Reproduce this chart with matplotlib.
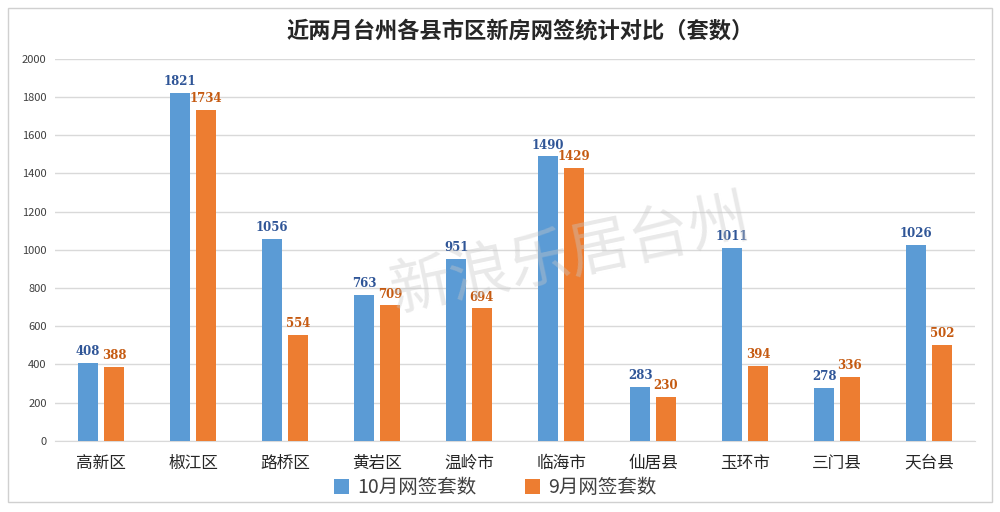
import matplotlib
matplotlib.use('Agg')
import matplotlib.pyplot as plt
import numpy as np
from matplotlib.patches import Rectangle

plt.rcParams['font.family'] = ['Noto Sans CJK SC', 'DejaVu Sans']

districts = ['高新区', '椒江区', '路桥区', '黄岩区', '温岭市', '临海市', '仙居县', '玉环市', '三门县', '天台县']
oct_sales = [408, 1821, 1056, 763, 951, 1490, 283, 1011, 278, 1026]
sep_sales = [388, 1734, 554, 709, 694, 1429, 230, 394, 336, 502]
yticks = [0, 200, 400, 600, 800, 1000, 1200, 1400, 1600, 1800, 2000]

blue = '#5B9BD5'
orange = '#ED7D31'

fig = plt.figure(figsize=(10, 5.12), dpi=100)
ax = fig.add_axes([0.055, 0.139, 0.92, 0.746])

# chart area border
fig.patches.append(Rectangle((0.008, 0.02), 0.984, 0.965, transform=fig.transFigure,
                             fill=False, edgecolor='#D0D0D0', lw=1))

x = np.arange(len(districts))
w = 0.22
b1 = ax.bar(x - 0.14, oct_sales, w, color=blue, label='10月网签套数', zorder=3)
b2 = ax.bar(x + 0.14, sep_sales, w, color=orange, label='9月网签套数', zorder=3)

for xi, v in zip(x - 0.14, oct_sales):
    ax.text(xi, v + 25, str(v), ha='center', va='bottom', fontsize=8.5,
            color='#2F5597', family='DejaVu Serif', fontweight='bold')
for xi, v in zip(x + 0.14, sep_sales):
    ax.text(xi, v + 25, str(v), ha='center', va='bottom', fontsize=8.5,
            color='#C55A11', family='DejaVu Serif', fontweight='bold')

ax.set_xlim(-0.5, len(districts) - 0.5)
ax.set_ylim(0, 2000)
ax.set_yticks(yticks)
ax.set_yticklabels([str(t) for t in yticks], fontsize=8, color='#404040')
ax.set_xticks(x)
ax.set_xticklabels(districts, fontsize=12, color='#262626')
ax.tick_params(length=0, pad=6)
ax.tick_params(axis='x', pad=10)
ax.grid(axis='y', color='#D9D9D9', lw=1, zorder=0)
for s in ['top', 'right', 'left']:
    ax.spines[s].set_visible(False)
ax.spines['bottom'].set_color('#D9D9D9')

# watermark
fig.text(0.57, 0.5, '新浪乐居台州', fontsize=44, color='#C8C8C8', alpha=0.4,
         rotation=12, ha='center', va='center', zorder=0)

fig.text(0.52, 0.94, '近两月台州各县市区新房网签统计对比（套数）', ha='center', va='center',
         fontsize=16, fontweight='bold', color='#262626')

fig.legend(handles=[b1, b2], loc='center', bbox_to_anchor=(0.495, 0.048), ncol=2,
           frameon=False, fontsize=14, handlelength=0.8, handleheight=0.8,
           columnspacing=2.5, handletextpad=0.4, labelcolor='#404040')

fig.savefig('out.png', dpi=100)
